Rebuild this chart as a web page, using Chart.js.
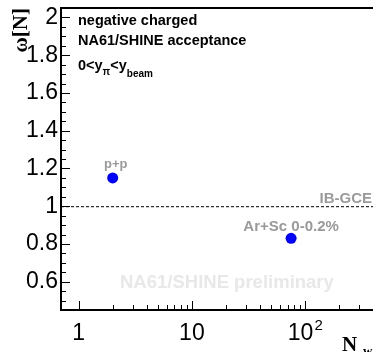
<!DOCTYPE html>
<html>
<head>
<meta charset="utf-8">
<script src="https://cdn.jsdelivr.net/npm/chart.js@4.4.1/dist/chart.umd.min.js"></script>
<style>
    html, body { margin: 0; padding: 0; background: #fff; }
    #wrap { width: 373px; height: 352px; overflow: hidden; position: relative; }
    canvas { display: block; }
</style>
</head>
<body>
<div id="wrap"><canvas id="chart" width="390" height="352"></canvas></div>
<script>
// data
const systems = ['p+p', 'Ar+Sc 0-0.2%'];
const nWounded = [2, 75];
const omega = [1.15, 0.83];
const ibGceValue = 1;

const xMajorTicks = [1, 10, 100];
const xTickLabels = ['1', '10', '10'];
const xTickExponents = ['', '', '2'];
const xMinorTicks = [2, 3, 4, 5, 6, 7, 8, 9, 20, 30, 40, 50, 60, 70, 80, 90, 200, 300, 400];
const yMajorTicks = [0.6, 0.8, 1.0, 1.2, 1.4, 1.6, 1.8, 2.0];
const yTickLabels = ['0.6', '0.8', '1', '1.2', '1.4', '1.6', '1.8', '2'];

const SANS = '"Liberation Sans", Arial, sans-serif';
const SERIF = '"Liberation Serif", "Times New Roman", serif';
const GRAY = '#9a9a9a';

// per-label tweaks for the gray point labels
const pointLabelStyles = [
    { size: 13, dx: 3, dy: -10 },
    { size: 15, dx: 0, dy: -7 }
];

const yMinorTicks = [];
for (let v = 0.45; v <= 2.05 + 1e-9; v += 0.05) yMinorTicks.push(+v.toFixed(2));

const rootStyle = {
    id: 'rootStyle',
    beforeDatasetsDraw(chart) {
        const { ctx, chartArea: a, scales: { x, y } } = chart;
        ctx.save();

        // watermark
        ctx.fillStyle = '#e8e8e8';
        ctx.font = 'bold 18.5px ' + SANS;
        ctx.textAlign = 'left';
        ctx.textBaseline = 'alphabetic';
        ctx.fillText('NA61/SHINE preliminary', 120, 288);

        // reference line
        const yRef = y.getPixelForValue(ibGceValue);
        ctx.strokeStyle = '#000';
        ctx.lineWidth = 1;
        ctx.setLineDash([3, 2]);
        ctx.beginPath();
        ctx.moveTo(a.left, yRef + 0.5);
        ctx.lineTo(a.right, yRef + 0.5);
        ctx.stroke();
        ctx.setLineDash([]);

        // frame
        ctx.lineWidth = 2;
        ctx.strokeRect(a.left, a.top, a.right - a.left, a.bottom - a.top);

        // y ticks (inside)
        ctx.lineWidth = 1;
        ctx.beginPath();
        yMinorTicks.forEach(v => {
            const p = Math.round(y.getPixelForValue(v)) + 0.5;
            const major = yMajorTicks.some(m => Math.abs(m - v) < 1e-6);
            ctx.moveTo(a.left, p);
            ctx.lineTo(a.left + (major ? 9 : 5), p);
        });
        // x ticks (inside)
        xMajorTicks.forEach(v => {
            const p = Math.round(x.getPixelForValue(v)) + 0.5;
            ctx.moveTo(p, a.bottom);
            ctx.lineTo(p, a.bottom - 9);
        });
        xMinorTicks.forEach(v => {
            const p = Math.round(x.getPixelForValue(v)) + 0.5;
            ctx.moveTo(p, a.bottom);
            ctx.lineTo(p, a.bottom - 5);
        });
        ctx.stroke();
        ctx.restore();
    },
    afterDatasetsDraw(chart) {
        const { ctx, chartArea: a, scales: { x, y } } = chart;
        ctx.save();

        // x tick labels with exponent (ROOT style 10^2)
        ctx.fillStyle = '#000';
        ctx.textBaseline = 'alphabetic';
        xMajorTicks.forEach((v, i) => {
            ctx.font = '23px ' + SANS;
            const base = ctx.measureText(xTickLabels[i]).width;
            ctx.font = '15px ' + SANS;
            const exp = xTickExponents[i] ? ctx.measureText(xTickExponents[i]).width + 1 : 0;
            const left = x.getPixelForValue(v) - (base + exp) / 2;
            ctx.font = '23px ' + SANS;
            ctx.textAlign = 'left';
            ctx.fillText(xTickLabels[i], left, a.bottom + 30);
            if (exp) {
                ctx.font = '15px ' + SANS;
                ctx.fillText(xTickExponents[i], left + base + 1, a.bottom + 20);
            }
        });

        // gray labels
        ctx.fillStyle = GRAY;
        ctx.textAlign = 'center';
        systems.forEach((name, i) => {
            const s = pointLabelStyles[i];
            ctx.font = 'bold ' + s.size + 'px ' + SANS;
            ctx.fillText(name, x.getPixelForValue(nWounded[i]) + s.dx, y.getPixelForValue(omega[i]) + s.dy);
        });
        ctx.font = 'bold 15px ' + SANS;
        ctx.textAlign = 'right';
        ctx.fillText('IB-GCE', 372, y.getPixelForValue(ibGceValue) - 3);

        // header text
        ctx.fillStyle = '#000';
        ctx.textAlign = 'left';
        ctx.font = 'bold 14.5px ' + SANS;
        ctx.fillText('negative charged', 78, 25);
        ctx.fillText('NA61/SHINE acceptance', 78, 45);
        let cx = 78;
        const part = (txt, size, base) => {
            ctx.font = 'bold ' + size + 'px ' + SANS;
            ctx.fillText(txt, cx, base);
            cx += ctx.measureText(txt).width;
        };
        part('0<y', 14.5, 70);
        part('π', 10, 75);
        part('<y', 14.5, 70);
        part('beam', 10, 77);

        // axis titles
        ctx.font = 'bold 21px ' + SERIF;
        ctx.textAlign = 'left';
        ctx.fillText('N', 342, 351);
        ctx.font = 'bold 13px ' + SERIF;
        ctx.fillText('w', 363, 355);

        ctx.translate(27, 8);
        ctx.rotate(-Math.PI / 2);
        ctx.font = 'bold 21px ' + SERIF;
        ctx.textAlign = 'right';
        ctx.fillText('ω[N]', 0, 0);
        ctx.restore();
    }
};

new Chart(document.getElementById('chart'), {
    type: 'scatter',
    data: {
        datasets: [{
            data: nWounded.map((n, i) => ({ x: n, y: omega[i] })),
            backgroundColor: '#0000ff',
            borderWidth: 0,
            pointRadius: 5.5
        }]
    },
    options: {
        responsive: false,
        animation: false,
        layout: { padding: { top: 8, right: 5, left: 0, bottom: 0 } },
        plugins: {
            legend: { display: false },
            tooltip: { enabled: false }
        },
        scales: {
            x: {
                type: 'logarithmic',
                min: 0.7,
                max: 500,
                grid: { display: false, drawTicks: false },
                border: { display: false },
                afterBuildTicks(scale) {
                    scale.ticks = xMajorTicks.map(v => ({ value: v }));
                },
                afterFit(scale) {
                    scale.height = 42;
                    scale.paddingLeft = 0;
                    scale.paddingRight = 0;
                },
                ticks: {
                    display: false,
                    autoSkip: false,
                    maxRotation: 0
                }
            },
            y: {
                min: 0.45,
                max: 2.05,
                grid: { display: false, drawTicks: false },
                border: { display: false },
                afterBuildTicks(scale) {
                    scale.ticks = yMajorTicks.map(v => ({ value: v }));
                },
                afterFit(scale) {
                    scale.width = 61;
                    scale.paddingTop = 0;
                    scale.paddingBottom = 0;
                },
                ticks: {
                    autoSkip: false,
                    padding: 3,
                    color: '#000',
                    font: { family: SANS, size: 23 },
                    callback: (v, i) => yTickLabels[i]
                }
            }
        }
    },
    plugins: [rootStyle]
});
</script>
</body>
</html>
